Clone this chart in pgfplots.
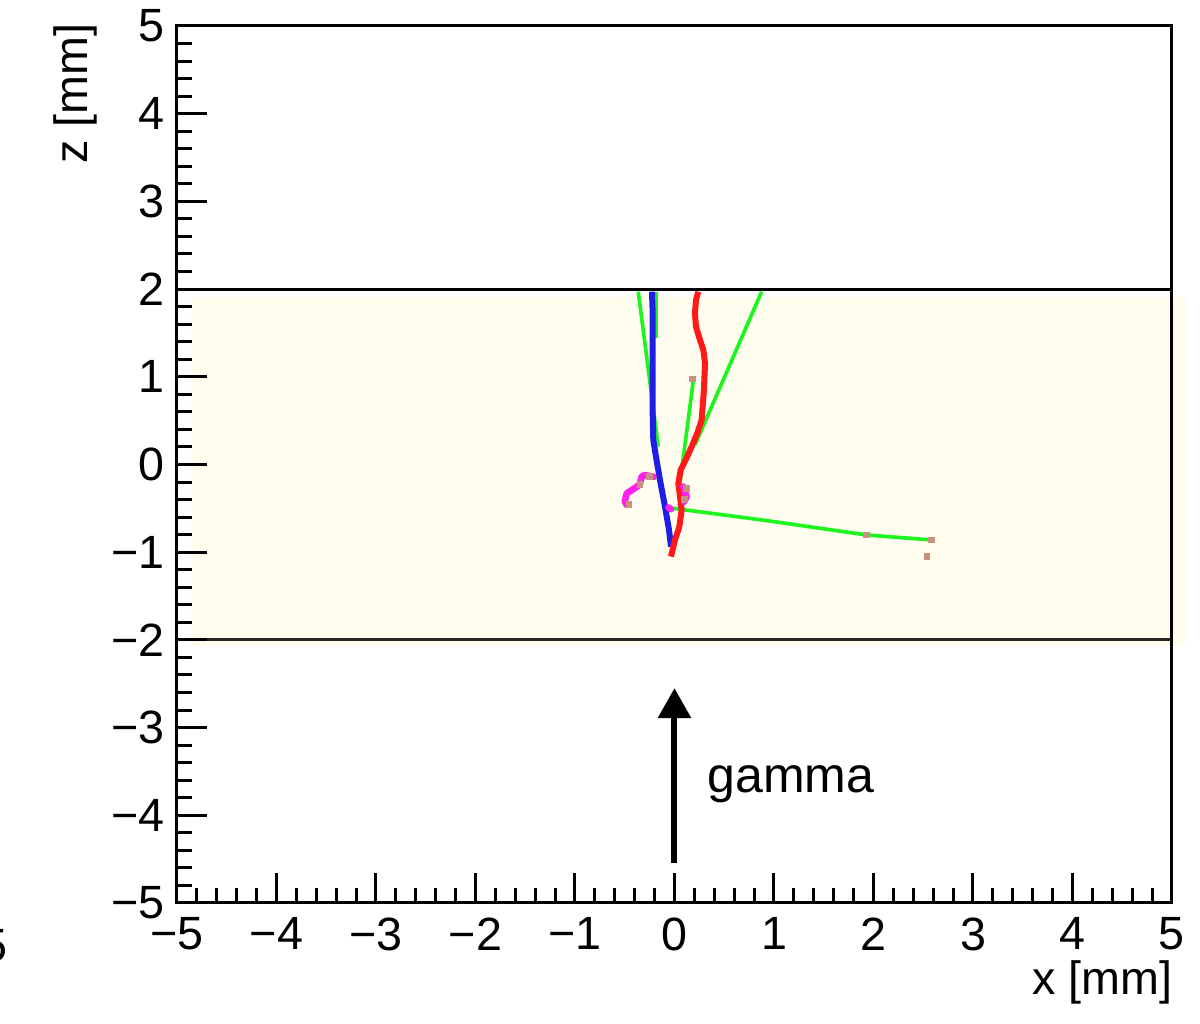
\documentclass[border=0pt]{standalone}
\usepackage{fontspec}
\setmainfont{Liberation Sans}
\usepackage{pgfplots}
\pgfplotsset{compat=1.18}
\usetikzlibrary{arrows.meta}
\definecolor{bandc}{HTML}{FFFDEE}
\definecolor{trkblue}{HTML}{1E1EE6}
\definecolor{trkred}{HTML}{FF1A1A}
\definecolor{trkgreen}{HTML}{1EF51E}
\definecolor{trkmag}{HTML}{FF22EE}
\definecolor{hitc}{HTML}{C89080}
\begin{document}
\fontsize{14pt}{16pt}\selectfont
\begin{tikzpicture}
\useasboundingbox (-53.1pt,-36.3pt) rectangle (306.9pt,270.9pt);
\begin{axis}[
  scale only axis, width=298.5pt, height=263.1pt,
  xmin=-5, xmax=5, ymin=-5, ymax=5,
  clip=false, axis on top,
  xtick={-5,-4,-3,-2,-1,0,1,2,3,4,5},
  ytick={-5,-4,-3,-2,-1,0,1,2,3,4,5},
  xticklabels={−5,−4,−3,−2,−1,0,1,2,3,4,5},
  yticklabels={−5,−4,−3,−2,−1,0,1,2,3,4,5},
  minor tick num=4,
  tick align=inside, tick pos=left,
  major tick length=9pt, minor tick length=4.5pt,
  every tick/.style={black, line width=0.9pt},
  axis line style={line width=0.9pt},
  ticklabel style={font=\fontsize{14pt}{16pt}\selectfont, inner sep=0pt},
  xticklabel style={anchor=north, yshift=-4.2pt},
  yticklabel style={anchor=east, xshift=-3.6pt},
]
% detector band
\addplot[fill=bandc, draw=none] coordinates {(-4.86,-2.07) (5.14,-2.07) (5.14,1.91) (-4.86,1.91)} -- cycle;
% boundary lines
\addplot[black, line width=0.9pt] coordinates {(-5,2) (5,2)};
\addplot[black!85!bandc, line width=0.9pt] coordinates {(-4.86,-2) (5,-2)};
% green tracks
\addplot[trkgreen, line width=1.1pt] coordinates {(-0.364,1.970) (-0.163,0.203)};
\addplot[trkgreen, line width=1.1pt] coordinates {(-0.186,1.970) (-0.186,1.439)};
\addplot[trkgreen, line width=1.1pt] coordinates {(0.876,1.970) (0.206,0.222)};
\addplot[trkgreen, line width=1.1pt] coordinates {(0.190,0.964) (0.055,-0.214) (0.121,-0.272)};
\addplot[trkgreen, line width=1.1pt] coordinates {(-0.012,-0.500) (0.926,-0.640) (1.932,-0.804) (2.585,-0.861)};
\addplot[trkgreen, line width=1.1pt] coordinates {(-0.229,-0.139) (-0.179,-0.157)};
% blue track
\addplot[trkblue, line width=1.8pt] coordinates {
(-0.226,1.970) (-0.219,1.724) (-0.219,1.344) (-0.219,0.964) (-0.219,0.583)
(-0.213,0.279) (-0.186,0.089) (-0.146,-0.177) (-0.095,-0.481) (-0.055,-0.747) (-0.035,-0.937)};
% red track
\addplot[trkred, line width=1.8pt] coordinates {
(0.239,1.970) (0.216,1.876) (0.206,1.724) (0.216,1.571) (0.256,1.420) (0.290,1.306)
(0.307,1.154) (0.296,0.850) (0.273,0.507) (0.229,0.356) (0.173,0.203) (0.112,0.051)
(0.062,-0.063) (0.039,-0.214) (0.055,-0.367) (0.072,-0.519) (0.049,-0.709)
(0.005,-0.861) (-0.035,-1.051)};
% magenta tracks
\addplot[trkmag, line width=2pt, line join=round, line cap=round] coordinates {
(-0.21,-0.14) (-0.30,-0.12) (-0.33,-0.14) (-0.35,-0.23) (-0.40,-0.27)
(-0.48,-0.33) (-0.50,-0.42) (-0.48,-0.46)};
\addplot[trkmag, line width=2pt, line join=round, line cap=round] coordinates {
(0.089,-0.253) (0.122,-0.367) (0.098,-0.424)};
\addplot[trkmag, line width=2pt, line cap=round] coordinates {(-0.060,-0.49) (-0.035,-0.51)};
% hits
\addplot[only marks, mark=square*, mark size=0.8pt, hitc] coordinates {
(0.179,0.975) (2.538,-1.047) (2.585,-0.861) (1.932,-0.804) (-0.253,-0.139)
(-0.347,-0.226) (-0.457,-0.454) (0.121,-0.272) (0.098,-0.400)};
% gamma arrow
\draw[black, line width=1.8pt, -{Triangle[length=9pt,width=9.6pt]}] (axis cs:0,-4.544) -- (axis cs:0,-2.55);
\end{axis}
\node[anchor=base west, inner sep=0pt, font=\fontsize{15pt}{17pt}\selectfont] at (159pt,33pt) {gamma};
\node[anchor=base east, inner sep=0pt] at (298.8pt,-27.6pt) {x [mm]};
\node[anchor=base east, inner sep=0pt, rotate=90] at (-26.7pt,264pt) {z [mm]};
\node[anchor=base east, inner sep=0pt] at (-50.7pt,-17.7pt) {−5};
\end{tikzpicture}
\end{document}
